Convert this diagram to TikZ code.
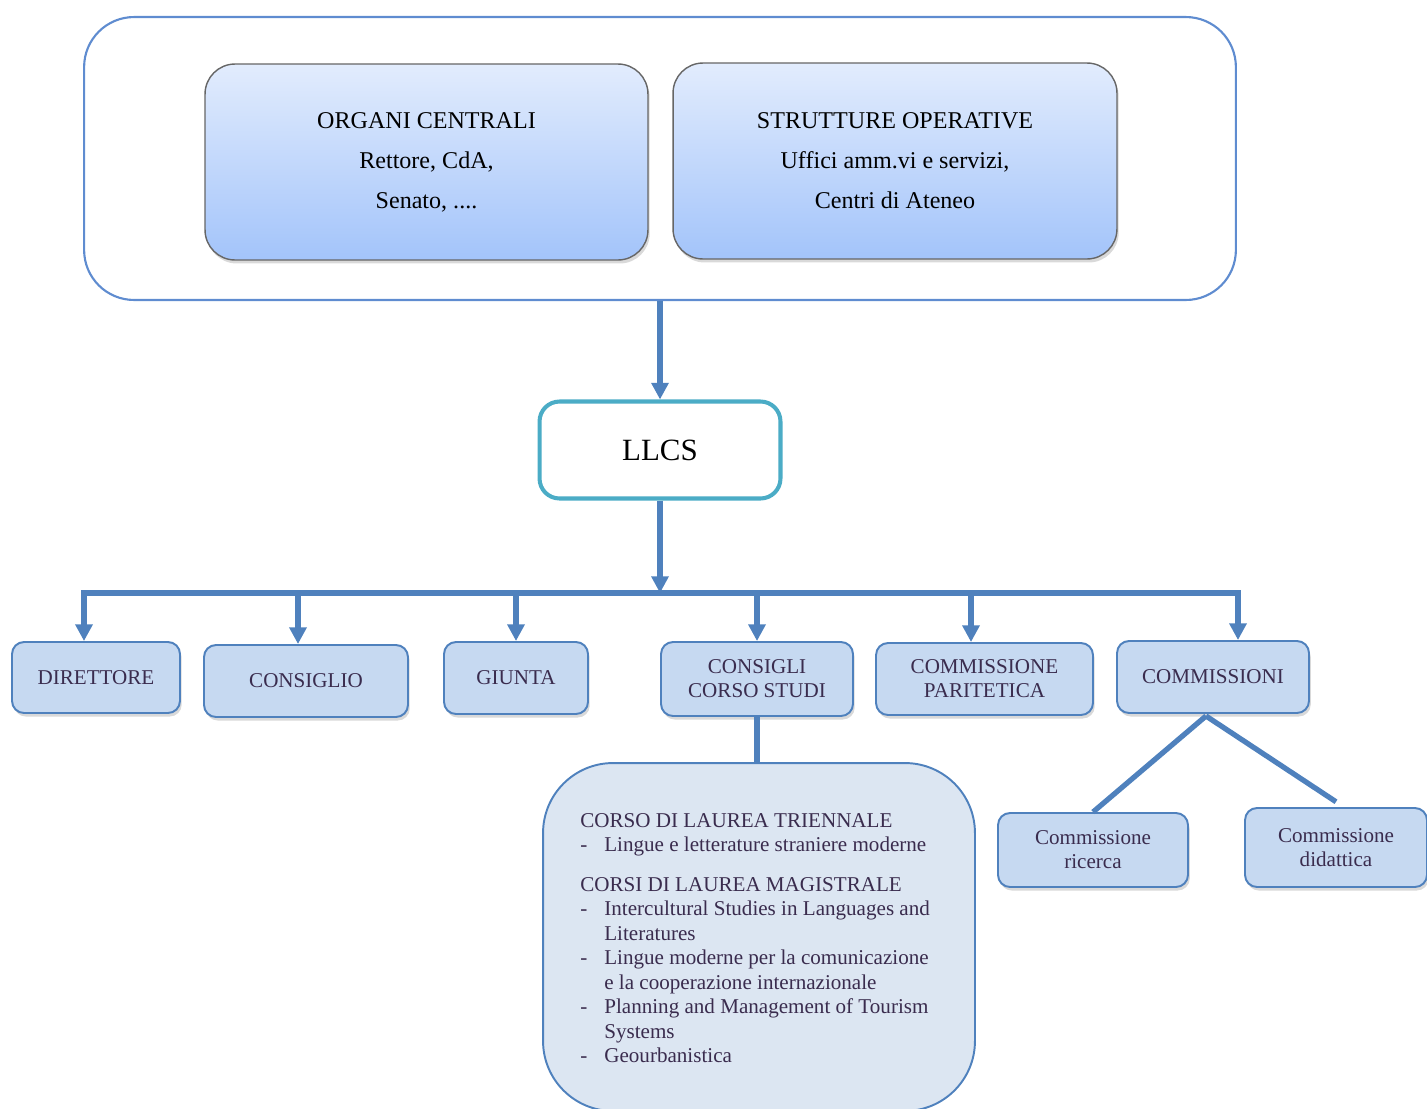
\documentclass[tikz,border=0pt]{standalone}
\usepackage{fontspec}
\setmainfont{Liberation Serif}
\usepackage{xcolor}
\usepackage{tikz}
\usetikzlibrary{shapes,arrows.meta,positioning,shadows}

\definecolor{linkblue}{RGB}{79,129,189}
\definecolor{unitfill}{RGB}{198,217,241}
\definecolor{coursefill}{RGB}{220,230,242}
\definecolor{llcsteal}{RGB}{75,172,198}
\definecolor{frameblue}{RGB}{95,140,208}
\definecolor{gradtop}{RGB}{226,236,253}
\definecolor{gradbot}{RGB}{163,196,250}
\definecolor{textdark}{RGB}{58,44,78}

\newcommand{\dashitem}{\makebox[0.48cm][l]{-}}
\newcommand{\dashcont}{\hspace*{0.48cm}}

\begin{document}
\begin{tikzpicture}[
      x=0.02cm, y=-0.02cm,
      frame/.style={rectangle, draw=frameblue, line width=1.2pt, rounded corners=1cm},
      central/.style={rectangle, draw=black!60, line width=0.8pt, top color=gradtop, bottom color=gradbot, rounded corners=0.6cm, align=center, font=\fontsize{13.7}{22.7}\selectfont, drop shadow={opacity=0.3, shadow xshift=1pt, shadow yshift=-2pt}},
      llcsbox/.style={rectangle, draw=llcsteal, line width=2.3pt, fill=white, rounded corners=0.4cm, font=\fontsize{17.6}{20}\selectfont},
      unit/.style={rectangle, draw=linkblue, line width=1.1pt, fill=unitfill, rounded corners=0.24cm, align=center, text=textdark, font=\fontsize{12}{13.6}\selectfont, drop shadow={opacity=0.3, shadow xshift=1pt, shadow yshift=-2pt}},
      coursebox/.style={rectangle, draw=linkblue, line width=1.1pt, fill=coursefill, rounded corners=1.4cm},
      arrow/.style={line width=3pt, draw=linkblue, ->, >={Triangle[length=9.5pt,width=9.5pt]}},
      link/.style={line width=3pt, draw=linkblue}
    ]
      \useasboundingbox (0,0) rectangle (1427,1109);

      \node [frame, minimum width=23.04cm, minimum height=5.66cm] (ateneo) at (660,158.5) {};
      \node [central, minimum width=8.86cm, minimum height=3.92cm] (organi) at (426.5,162) {ORGANI CENTRALI\\Rettore, CdA,\\ Senato, ....};
      \node [central, minimum width=8.88cm, minimum height=3.92cm] (strutture) at (895,161) {STRUTTURE OPERATIVE\\Uffici amm.vi e servizi,\\Centri di Ateneo};

      \node [llcsbox, minimum width=4.82cm, minimum height=1.94cm] (llcs) at (660,450) {LLCS};

      \node [unit, minimum width=3.36cm, minimum height=1.42cm] (direttore) at (96,677.5) {DIRETTORE};
      \node [unit, minimum width=4.08cm, minimum height=1.44cm] (consiglio) at (306,681) {CONSIGLIO};
      \node [unit, minimum width=2.88cm, minimum height=1.44cm] (giunta) at (516,678) {GIUNTA};
      \node [unit, minimum width=3.84cm, minimum height=1.48cm] (consigli) at (757,679) {CONSIGLI\\CORSO STUDI};
      \node [unit, minimum width=4.34cm, minimum height=1.44cm] (paritetica) at (984.5,679) {COMMISSIONE\\PARITETICA};
      \node [unit, minimum width=3.84cm, minimum height=1.44cm] (commissioni) at (1213,677) {COMMISSIONI};

      \node [unit, minimum width=3.8cm, minimum height=1.48cm] (ricerca) at (1093,850) {Commissione\\ricerca};
      \node [unit, minimum width=3.64cm, minimum height=1.58cm] (didattica) at (1336,847.5) {Commissione\\didattica};

      \node [coursebox, minimum width=8.64cm, minimum height=6.96cm] (corsi) at (759,937) {};
      \node [anchor=north west, inner sep=0pt, align=left, text=textdark, font=\fontsize{12}{13.95}\selectfont] (elenco) at (580,813) {%
        CORSO DI LAUREA TRIENNALE\\
        \dashitem Lingue e letterature straniere moderne\\[8.5pt]
        CORSI DI LAUREA MAGISTRALE\\
        \dashitem Intercultural Studies in Languages and\\
        \dashcont Literatures\\
        \dashitem Lingue moderne per la comunicazione\\
        \dashcont e la cooperazione internazionale\\
        \dashitem Planning and Management of Tourism\\
        \dashcont Systems\\
        \dashitem Geourbanistica};

      \coordinate (busleft) at (84,593);
      \coordinate (busright) at (1238,593);
      \coordinate (busmid) at (660,593);
      \coordinate (fork) at (1206,716);

      \draw [arrow] (ateneo) -- (llcs);
      \draw [arrow] (llcs) -- (busmid);
      \draw [link, line cap=rect] (busleft) -- (busright);
      \foreach \x/\n in {84/direttore, 298/consiglio, 516/giunta, 757/consigli, 971/paritetica, 1238/commissioni} {
        \coordinate (drop\n) at (\x,593);
        \draw [arrow] (drop\n) -- (drop\n |- \n.north);
      }
      \draw [link] (consigli.south) -- (consigli.south |- corsi.north);
      \draw [link] (fork) -- (ricerca.north);
      \draw [link] (fork) -- ([yshift=3pt]didattica.north);
    \end{tikzpicture}
\end{document}
